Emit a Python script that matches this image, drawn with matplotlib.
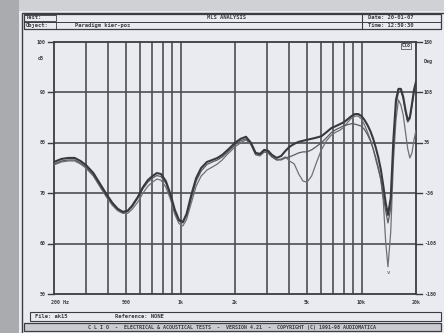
import matplotlib.pyplot as plt
import matplotlib.patches as mpatches
from matplotlib.lines import Line2D

# frequency points (Hz)
freq = [200, 220, 240, 260, 280, 300, 330, 360, 390, 420, 450, 480, 510, 540,
        580, 620, 660, 700, 740, 780, 830, 880, 930, 980, 1030, 1080, 1150,
        1220, 1300, 1400, 1500, 1600, 1700, 1800, 1900, 2000, 2150, 2300,
        2450, 2600, 2750, 2900, 3050, 3200, 3400, 3600, 3800, 4000, 4250,
        4500, 4750, 5000, 5300, 5600, 6000, 6400, 6800, 7200, 7600, 8000,
        8400, 8800, 9200, 9600, 10000, 10400, 10800, 11200, 11600, 12000,
        12400, 12800, 13200, 13600, 14000, 14500, 15000, 15500, 16000,
        16500, 17000, 17500, 18000, 18500, 19000, 19500, 20000]

# on-axis response (dB)
spl_a = [76.2, 76.8, 77.0, 77.0, 76.4, 75.6, 74.0, 71.8, 69.8, 68.1, 66.9,
         66.3, 66.5, 67.5, 69.2, 71.2, 72.6, 73.4, 74.0, 73.8, 72.4, 69.8,
         66.7, 64.7, 64.3, 65.9, 69.8, 73.0, 75.0, 76.2, 76.6, 77.0, 77.6,
         78.4, 79.2, 80.0, 80.8, 81.2, 80.0, 78.0, 77.8, 78.6, 78.4, 77.6,
         77.0, 77.4, 78.4, 79.2, 79.8, 80.2, 80.4, 80.6, 80.8, 81.0, 81.3,
         82.1, 82.9, 83.3, 83.7, 84.1, 84.7, 85.3, 85.7, 85.7, 85.3, 84.5,
         83.5, 82.3, 80.8, 79.0, 77.0, 74.6, 71.4, 68.1, 65.7, 69.0, 80.6,
         88.5, 90.7, 90.7, 89.1, 86.5, 84.5, 85.1, 87.7, 90.5, 92.1]

# second measurement (dB)
spl_b = [75.8, 76.4, 76.6, 76.6, 76.0, 75.2, 73.6, 71.4, 69.5, 67.9, 66.8,
         66.2, 66.4, 67.3, 69.0, 70.9, 72.2, 73.0, 73.5, 73.3, 72.0, 69.4,
         66.4, 64.5, 64.1, 65.6, 69.2, 72.4, 74.4, 75.7, 76.2, 76.6, 77.2,
         78.0, 78.8, 79.6, 80.4, 80.8, 79.8, 77.8, 77.6, 78.2, 78.0, 77.2,
         76.6, 76.6, 77.0, 77.2, 77.6, 78.0, 78.2, 78.2, 78.6, 79.2, 80.0,
         81.0, 82.0, 82.6, 83.0, 83.4, 83.6, 83.8, 83.7, 83.5, 83.3, 82.6,
         81.6, 80.4, 78.8, 77.0, 75.0, 72.6, 69.4, 66.5, 64.1, 67.0, 78.8,
         87.5, 90.1, 90.3, 88.8, 86.1, 84.1, 84.7, 87.3, 90.1, 91.5]

# third measurement (dB)
spl_c = [75.6, 76.2, 76.4, 76.4, 75.8, 75.0, 73.4, 71.2, 69.2, 67.6, 66.5,
         66.0, 66.0, 66.8, 68.2, 70.0, 71.4, 72.2, 72.8, 72.6, 71.2, 68.8,
         65.8, 64.0, 63.5, 64.8, 68.2, 71.4, 73.4, 74.6, 75.2, 75.8, 76.6,
         77.6, 78.4, 79.2, 80.0, 80.6, 79.6, 77.6, 77.4, 78.2, 78.0, 77.2,
         76.6, 76.8, 77.2, 76.4, 75.8, 73.8, 72.4, 72.2, 73.4, 75.8, 78.6,
         80.4, 81.5, 82.1, 82.5, 83.1, 84.1, 84.9, 85.3, 85.3, 84.7, 83.5,
         82.1, 80.6, 78.8, 76.6, 74.6, 72.6, 68.3, 60.3, 55.4, 62.3, 76.2,
         84.5, 88.5, 87.5, 85.5, 82.1, 78.8, 77.0, 78.0, 80.6, 82.5]

x_ticks = [200, 500, 1000, 2000, 5000, 10000, 20000]
x_tick_labels = ["200 Hz", "500", "1k", "2k", "5k", "10k", "20k"]
x_grid = [300, 400, 500, 600, 700, 800, 900, 1000, 2000, 3000, 4000, 5000,
          6000, 7000, 8000, 9000, 10000]
db_levels = [100, 90, 80, 70, 60, 50]
deg_labels = ["180", "108", "36", "-36", "-108", "-180"]

W, H = 444, 333
paper = "#e9ebf1"
ink = "#3c3d42"
mono = "DejaVu Sans Mono"

fig = plt.figure(figsize=(W / 100, H / 100), dpi=100, facecolor=paper)


def px(x, y):
    return x / W, 1 - y / H


def frame(x0, y0, x1, y1, lw=0.8, fc="none", ec=ink):
    fig.patches.append(mpatches.Rectangle(
        (x0 / W, 1 - y1 / H), (x1 - x0) / W, (y1 - y0) / H,
        transform=fig.transFigure, fill=fc != "none", facecolor=fc,
        edgecolor=ec, linewidth=lw))


def hline(y, x0, x1, lw=0.8):
    fig.lines.append(Line2D([x0 / W, x1 / W], [1 - y / H, 1 - y / H],
                            transform=fig.transFigure, color=ink, lw=lw))


def label(x, y, s, size=4.0, ha="left", weight="bold"):
    fig.text(*px(x, y), s, fontsize=size, ha=ha, va="center",
             family=mono, weight=weight, color=ink)


# scanned-page surroundings
frame(0, 0, 19, H, lw=0, fc="#a9abaf", ec="none")
frame(19, 0, W, 11, lw=0, fc="#cfd1d5", ec="none")
frame(22, 13, W + 5, H + 5, lw=1.0)

# header
frame(24, 14, 441, 29, lw=0.9)
hline(21.5, 24, 441, lw=0.7)
frame(24, 15, 56, 21, lw=0.6)
frame(24, 22, 56, 28.5, lw=0.6)
fig.lines.append(Line2D([362 / W, 362 / W], [1 - 14 / H, 1 - 29 / H],
                        transform=fig.transFigure, color=ink, lw=0.8))
label(26, 17.8, "Test:")
label(26, 25.3, "Object:")
label(226, 17.8, "MLS ANALYSIS", ha="center")
label(75, 25.3, "Paradigm kier-pos")
label(368, 17.8, "Date: 20-01-07")
label(368, 25.3, "Time: 12:59:30")

# footer
frame(30, 312, 441, 321, lw=0.8)
label(35, 316.5, "File: ak15")
label(115, 316.5, "Reference: NONE")
frame(24, 323, 441, 331, lw=0.9, fc="#c9cbd0")
label(232, 327, "C L I O  -  ELECTRICAL & ACOUSTICAL TESTS  -  VERSION 4.21"
      "  -  COPYRIGHT (C) 1991-98 AUDIOMATICA", size=3.6, ha="center")

# plot area
ax = fig.add_axes([54 / W, 39 / H, 362 / W, 252 / H])
ax.set_facecolor(paper)
ax.set_xscale("log")
ax.set_xlim(200, 20000)
ax.set_ylim(50, 100)

for f in x_grid:
    ax.axvline(f, color="#4d4e53", lw=1.2, zorder=1)
for d in db_levels[1:-1]:
    ax.axhline(d, color="#4d4e53", lw=1.2, zorder=1)

ax.plot(freq, spl_c, color="#6e7075", lw=0.9, zorder=3)
ax.plot(freq, spl_b, color="#5a5c61", lw=0.9, zorder=3)
ax.plot(freq, spl_a, color="#38393e", lw=1.5, zorder=4)

# cursor mark at the notch
notch = spl_c.index(min(spl_c))
ax.text(freq[notch], spl_c[notch] - 0.6, "v", fontsize=4, ha="center",
        va="top", family=mono, color=ink, zorder=5)
ax.text(0.985, 0.995, "Clo", transform=ax.transAxes, fontsize=3.6,
        ha="right", va="top", family=mono, weight="bold", color=ink,
        bbox=dict(boxstyle="square,pad=0.15", fc=paper, ec=ink, lw=0.5))

ax.set_xticks([])
ax.set_yticks([])
ax.minorticks_off()
for s in ax.spines.values():
    s.set_color(ink)
    s.set_linewidth(1.3)

# axis labels drawn on the page
for i, d in enumerate(db_levels):
    y = 42 + i * 50.4
    fig.lines.append(Line2D([48 / W, 54 / W], [1 - y / H, 1 - y / H],
                            transform=fig.transFigure, color=ink, lw=1.0))
    fig.lines.append(Line2D([416 / W, 422 / W], [1 - y / H, 1 - y / H],
                            transform=fig.transFigure, color=ink, lw=1.0))
    label(46, y, str(d), size=3.6, ha="right")
    label(424, y, deg_labels[i], size=3.6)
label(44, 58, "dB", size=3.6, ha="right")
label(424, 62, "Deg", size=3.6)

for f, s in zip(x_ticks, x_tick_labels):
    xp = ax.transData.transform((f, 50))[0] / fig.dpi * 100
    if s.endswith("Hz"):
        label(xp - 3, 303, s, size=3.6)
    else:
        label(xp, 303, s, size=3.6, ha="center")

fig.savefig("out.png", dpi=100, facecolor=paper)
